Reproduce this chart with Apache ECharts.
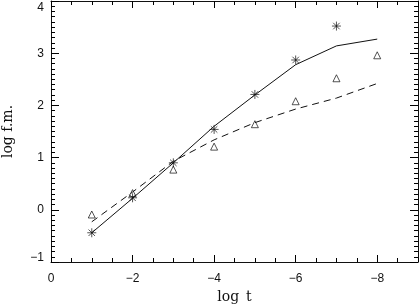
<!DOCTYPE html>
<html>
<head>
<meta charset="utf-8">
<script src="https://cdn.jsdelivr.net/npm/echarts@6/dist/echarts.min.js"></script>
<style>html,body{margin:0;padding:0;background:#fff;}#c{width:419px;height:306px;}</style>
</head>
<body>
<div id="c"></div>
<script>
// ---- data ----
const modelT = [-1, -2, -3, -4, -5, -6, -7, -8];
const solidModel = [-0.44, 0.22, 0.90, 1.60, 2.20, 2.78, 3.14, 3.27];
const dashedModel = [-0.23, 0.34, 0.93, 1.34, 1.67, 1.93, 2.14, 2.42];
const starT = [-1, -2, -3, -4, -5, -6, -7];
const starValues = [-0.44, 0.23, 0.90, 1.54, 2.21, 2.87, 3.52];
const triT = [-1, -2, -3, -4, -5, -6, -7, -8];
const triValues = [-0.09, 0.32, 0.77, 1.21, 1.64, 2.08, 2.52, 2.96];
const xTitle = 'log\u2002t';
const yTitle = 'log f.m.';

// the x axis runs from 0 to -9 left to right; the library axis holds -log t (0..9)
const pairs = (xs, ys) => xs.map((x, i) => [-x, ys[i]]);
const ink = '#111';
const tk = '#000';
const numFont = 'Liberation Sans';
const titleFont = 'DejaVu Serif';
const xfmt = v => (v === 0 ? '0' : '\u2212' + v);
const yfmt = v => {
  const s = v < 0 ? '\u2212' + Math.abs(v) : String(v);
  if (v === 4) return '{top|' + s + '}';
  if (v === -1) return '{bot|' + s + '}';
  return s;
};

const xBase = {type: 'value', min: 0, max: 9, splitLine: {show: false}, gridIndex: 0};
const yBase = {type: 'value', min: -1, max: 4, interval: 1, splitLine: {show: false}};

const asterisk = 'path://M0,-5L0,5M-5,0L5,0M-3.6,-3.6L3.6,3.6M-3.6,3.6L3.6,-3.6';

const chart = echarts.init(document.getElementById('c'), null, {renderer: 'canvas'});
chart.setOption({
  animation: false,
  backgroundColor: '#fff',
  grid: {left: 51, right: 1, top: 1, bottom: 44, containLabel: false, outerBoundsMode: 'none'},
  xAxis: [
    Object.assign({}, xBase, {
      position: 'bottom', interval: 2,
      axisLine: {show: true, onZero: false, lineStyle: {color: ink, width: 1}},
      axisTick: {show: true, inside: true, length: 7, lineStyle: {color: tk, width: 1}},
      axisLabel: {show: true, formatter: xfmt, color: ink, fontFamily: numFont, fontSize: 12, margin: 11, showMaxLabel: false, showMinLabel: true},
      name: xTitle, nameLocation: 'middle', nameGap: 25,
      nameTextStyle: {color: ink, fontFamily: titleFont, fontSize: 14}
    }),
    Object.assign({}, xBase, {
      position: 'bottom', interval: 0.5,
      axisLine: {show: false, onZero: false},
      axisTick: {show: true, inside: true, length: 4, lineStyle: {color: tk, width: 1}},
      axisLabel: {show: false}
    }),
    Object.assign({}, xBase, {
      position: 'top', interval: 2,
      axisLine: {show: true, onZero: false, lineStyle: {color: ink, width: 1}},
      axisTick: {show: true, inside: true, length: 7, lineStyle: {color: tk, width: 1}},
      axisLabel: {show: false}
    }),
    Object.assign({}, xBase, {
      position: 'top', interval: 0.5,
      axisLine: {show: false, onZero: false},
      axisTick: {show: true, inside: true, length: 4, lineStyle: {color: tk, width: 1}},
      axisLabel: {show: false}
    })
  ],
  yAxis: [
    Object.assign({}, yBase, {
      position: 'left',
      axisLine: {show: true, onZero: false, lineStyle: {color: ink, width: 1}},
      axisTick: {show: true, inside: true, length: 8, lineStyle: {color: tk, width: 1}},
      minorTick: {show: true, splitNumber: 10, length: 4, lineStyle: {color: tk, width: 1}},
      axisLabel: {show: true, formatter: yfmt, color: ink, fontFamily: numFont, fontSize: 12, margin: 7,
        rich: {top: {padding: [14, 0, 0, 0], fontFamily: numFont, fontSize: 12, color: ink},
               bot: {padding: [0, 0, 8, 0], fontFamily: numFont, fontSize: 12, color: ink}}},
      name: yTitle, nameLocation: 'middle', nameGap: 36, nameRotate: 90,
      nameTextStyle: {color: ink, fontFamily: titleFont, fontSize: 14}
    }),
    Object.assign({}, yBase, {
      position: 'right',
      axisLine: {show: true, onZero: false, lineStyle: {color: ink, width: 1}},
      axisTick: {show: true, inside: true, length: 8, lineStyle: {color: tk, width: 1}},
      minorTick: {show: true, splitNumber: 10, length: 4, lineStyle: {color: tk, width: 1}},
      axisLabel: {show: false}
    })
  ],
  series: [
    {type: 'line', xAxisIndex: 0, yAxisIndex: 0, data: pairs(modelT, solidModel), showSymbol: false,
     lineStyle: {color: ink, width: 1, type: 'solid'}},
    {type: 'line', xAxisIndex: 0, yAxisIndex: 0, data: pairs(modelT, dashedModel), showSymbol: false,
     lineStyle: {color: ink, width: 1, type: [7, 5]}},
    {type: 'scatter', xAxisIndex: 0, yAxisIndex: 0, data: pairs(starT, starValues), symbol: asterisk, symbolSize: 9,
     itemStyle: {color: 'rgba(0,0,0,0)', borderColor: ink, borderWidth: 0.9}},
    {type: 'scatter', xAxisIndex: 0, yAxisIndex: 0, data: pairs(triT, triValues), symbol: 'triangle', symbolSize: 7,
     itemStyle: {color: 'rgba(255,255,255,0)', borderColor: ink, borderWidth: 0.9}}
  ]
});
</script>
</body>
</html>
